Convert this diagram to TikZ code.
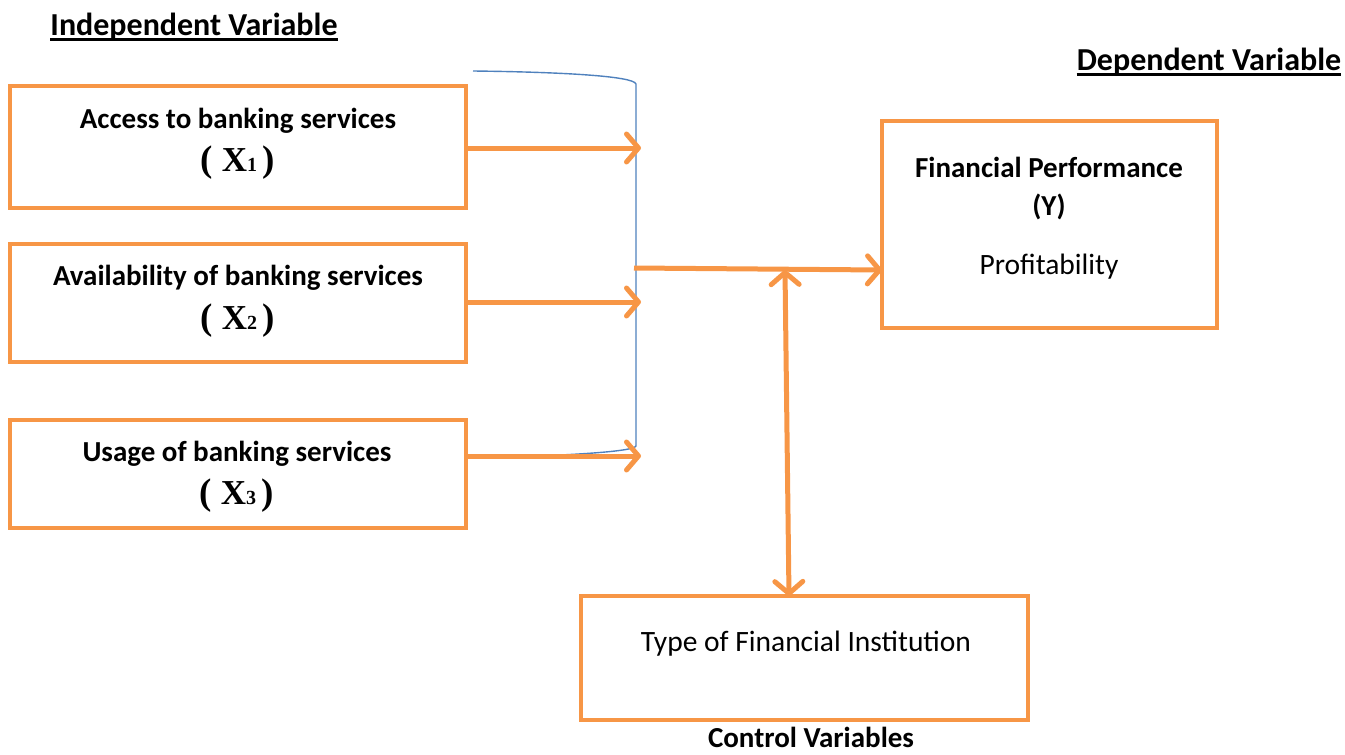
\documentclass[tikz,border=0pt]{standalone}
\usepackage{fontspec}
\setmainfont{Carlito}
\newfontfamily\timesf{Liberation Serif}
\usetikzlibrary{arrows.meta}
\definecolor{orng}{HTML}{F79646}
\definecolor{blu}{HTML}{4F81BD}
\tikzset{
  box/.style={draw=orng, line width=4pt, fill=white},
  tip/.tip={Straight Barb[length=12pt,width=28pt,round]},
  arr/.style={draw=orng, line width=5pt, -tip},
  darr/.style={draw=orng, line width=5pt, tip-tip},
  head/.style={font=\fontsize{32}{36}\selectfont\bfseries, inner sep=0pt},
  uline/.style={line width=2.6pt},
  btext/.style={font=\fontsize{29}{34}\selectfont\bfseries},
  rtext/.style={font=\fontsize{29.5}{34}\selectfont},
  xlab/.style={font=\timesf\fontsize{35}{38}\selectfont\bfseries},
}
\newcommand{\xsub}[1]{{\fontsize{37}{38}\selectfont(} X{\fontsize{20}{20}\selectfont #1}\,{\fontsize{37}{38}\selectfont)}}
\begin{document}
\begin{tikzpicture}[x=1pt,y=-1pt]
\useasboundingbox (0,0) rectangle (1345,755);
% headings
\node[head] (hind) at (194,27) {Independent Variable};
\draw[uline] ([yshift=-4pt]hind.base west) -- ([yshift=-4pt]hind.base east);
\node[head] (hdep) at (1209,62) {Dependent Variable};
\draw[uline] ([yshift=-4pt]hdep.base west) -- ([yshift=-4pt]hdep.base east);
\node[head, font=\fontsize{29}{34}\selectfont\bfseries] (hctl) at (811,737) {Control Variables};
% independent boxes
\draw[box] (10,86) rectangle (466,208);
\coordinate (b1) at (466,148);
\node[btext] (t1) at (238,121) {Access to banking services};
\node[xlab] (x1) at (238,163) {\xsub{1}};
\draw[box] (10,244) rectangle (466,362);
\coordinate (b2) at (466,302);
\node[btext] (t2) at (238,278) {Availability of banking services};
\node[xlab] (x2) at (238,321) {\xsub{2}};
\draw[box] (10,420) rectangle (466,528);
\coordinate (b3) at (466,456);
\node[btext] (t3) at (237,454) {Usage of banking services};
\node[xlab] (x3) at (237,496) {\xsub{3}};
% dependent box
\draw[box] (882,121) rectangle (1217,328);
\coordinate (fpL) at (882,270);
\node[btext] (fp1) at (1049,167) {Financial Performance};
\node[btext] (fp2) at (1049,207) {(Y)};
\node[rtext] (fp3) at (1049,267) {Profitability};
% control box
\draw[box] (581,596) rectangle (1028,720);
\coordinate (ctT) at (789,596);
\node[rtext] (ct) at (806,644) {Type of Financial Institution};
% bracket
\draw[blu, line width=1.4pt] (473,71) .. controls (560,72) and (634,76) .. (636,84)
  -- (636,446) .. controls (634,452) and (560,456) .. (473,458);
% coordinates
\coordinate (e1) at (641,148);
\coordinate (e2) at (641,302);
\coordinate (e3) at (641,456);
\coordinate (m) at (634,268);
\coordinate (jn) at (785,270);
% arrows
\draw[arr] (b1) -- (e1);
\draw[arr] (b2) -- (e2);
\draw[arr] (b3) -- (e3);
\draw[arr] (m) -- (fpL);
\draw[darr] (jn) -- (ctT);
\end{tikzpicture}
\end{document}
